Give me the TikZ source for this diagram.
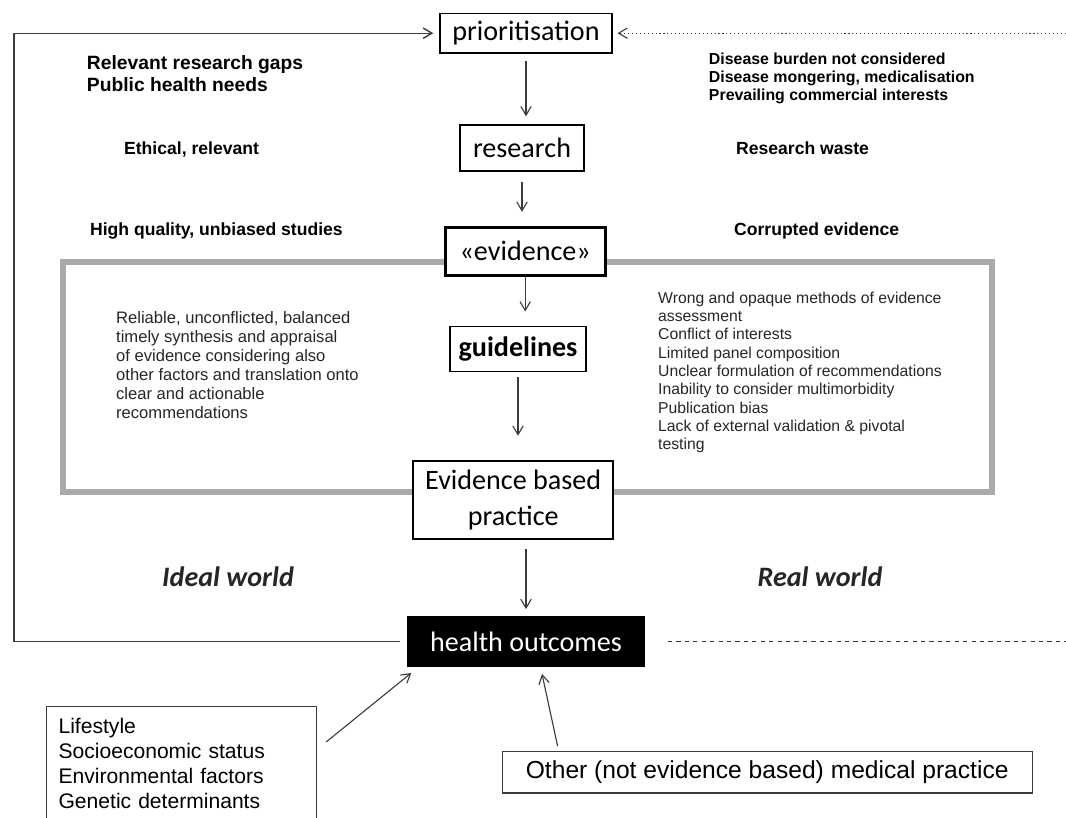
\documentclass[tikz,border=0pt]{standalone}
\usepackage{fontspec}
\setmainfont{Carlito}
\newfontfamily\arialfont{Liberation Sans}
\definecolor{framegray}{RGB}{170, 170, 170}
\definecolor{linegray}{RGB}{60, 60, 60}
\usetikzlibrary{arrows.meta, positioning, calc}
\tikzset{
  stagebox/.style={draw=black, line width=1pt, fill=white, inner sep=0pt, font=\fontsize{20}{24}\selectfont},
  sidelabel/.style={anchor=west, align=left, font=\arialfont\bfseries\fontsize{12.5}{15}\selectfont},
  graylist/.style={anchor=west, align=left, text=black!85},
  worldlabel/.style={font=\bfseries\itshape\fontsize{20}{24}\selectfont, text=black!85},
  flowarrow/.style={-{Straight Barb[length=2.2mm, width=2.6mm]}, linegray, line width=0.8pt}
}

\begin{document}
\begin{tikzpicture}
  \useasboundingbox (0,0) rectangle (26.65,-20.425);

  % Guideline frame
  \draw[framegray, line width=4.5pt] (1.58,-6.55) rectangle (24.8,-12.3);

  % Stages
  \node[stagebox, minimum width=4.3cm, minimum height=0.98cm] (prio) at (13.15,-0.83) {prioritisation};
  \node[stagebox, minimum width=3.1cm, minimum height=1.15cm] (research) at (13.05,-3.7) {research};
  \node[stagebox, line width=2pt, minimum width=4.0cm, minimum height=1.2cm] (evid) at (13.13,-6.28) {«evidence»};
  \node[stagebox, font=\bfseries\fontsize{20}{24}\selectfont, minimum width=3.4cm, minimum height=1.13cm] (guide) at (12.95,-8.72) {guidelines};
  \node[stagebox, line width=1.8pt, align=center, minimum width=5.0cm, minimum height=1.95cm, font=\fontsize{20}{25.5}\selectfont] (ebp) at (12.83,-12.5) {Evidence based\\practice};
  \node[stagebox, fill=black, text=white, minimum width=5.9cm, minimum height=1.23cm] (health) at (13.15,-16.04) {health outcomes};

  \draw[flowarrow, shorten <=0.18cm, shorten >=0.2cm] (prio.south) -- (prio.south |- research.north);
  \draw[flowarrow, shorten <=0.25cm, shorten >=0.35cm] (research.south) -- (research.south |- evid.north);
  \draw[flowarrow, shorten >=0.35cm] (evid.south) -- (evid.south |- guide.north);
  \draw[flowarrow, shorten <=0.12cm, shorten >=0.6cm] (guide.south) -- (guide.south |- ebp.north);
  \draw[flowarrow, shorten <=0.22cm, shorten >=0.18cm] (ebp.south -| health.north) -- (health.north);

  % Feedback loop and outside links
  \coordinate (loopcorner) at (0.35,-0.78);
  \coordinate (dotend) at (26.65,-0.8);
  \coordinate (dashend) at (26.65,-16.1);
  \draw[flowarrow, line width=1pt, shorten <=0.18cm, shorten >=0.15cm] (health.west) -- (health.west -| loopcorner) -- (loopcorner |- prio.west) -- (prio.west);
  \draw[flowarrow, dotted, shorten >=0.12cm] (prio.east -| dotend) -- (prio.east);
  \draw[linegray, dashed, line width=0.6pt, shorten <=0.58cm] (health.east) -- (health.east -| dashend);

  % Ideal side
  \node[sidelabel, font=\arialfont\bfseries\fontsize{13.7}{15.6}\selectfont] (gaps) at (2.05,-1.83) {Relevant research gaps\\Public health needs};
  \node[sidelabel] (ethical) at (2.98,-3.73) {Ethical, relevant};
  \node[sidelabel] (quality) at (2.13,-5.78) {High quality, unbiased studies};
  \node[graylist, font=\arialfont\fontsize{11.8}{13.6}\selectfont] (reliable) at (2.78,-9.13) {Reliable, unconflicted, balanced\\timely synthesis and appraisal\\of evidence considering also\\other factors and translation onto\\clear and actionable\\recommendations};
  \node[worldlabel] (ideal) at (5.7,-14.43) {Ideal world};

  % Real side
  \node[sidelabel, font=\arialfont\bfseries\fontsize{11.3}{13.1}\selectfont] (burden) at (17.6,-1.96) {Disease burden not considered\\Disease mongering, medicalisation\\Prevailing commercial interests};
  \node[sidelabel] (waste) at (18.28,-3.7) {Research waste};
  \node[sidelabel] (corrupt) at (18.23,-5.78) {Corrupted evidence};
  \node[graylist, font=\arialfont\fontsize{11.2}{13}\selectfont] (wrong) at (16.33,-9.31) {Wrong and opaque methods of evidence\\assessment\\Conflict of interests\\Limited panel composition\\Unclear formulation of recommendations\\Inability to consider multimorbidity\\Publication bias\\Lack of external validation \& pivotal\\testing};
  \node[worldlabel] (real) at (20.5,-14.43) {Real world};

  % Other determinants
  \node[draw=linegray, line width=0.8pt, anchor=north west, align=left, text width=6.15cm, inner xsep=0.3cm, inner ysep=0.3cm, font=\arialfont\fontsize{15}{17.7}\selectfont] (life) at (1.15,-17.65) {Lifestyle\\Socioeconomic status\\Environmental factors\\Genetic determinants};
  \node[draw=linegray, line width=0.8pt, minimum width=13.25cm, minimum height=1.03cm, inner sep=0pt, font=\arialfont\fontsize{17.5}{21}\selectfont] (other) at (19.18,-19.31) {Other (not evidence based) medical practice};

  \draw[flowarrow] ([shift={(0.225,-0.9)}]life.north east) -- ([shift={(0.1,-0.15)}]health.south west);
  \draw[flowarrow] ([shift={(1.4,0.125)}]other.north west) -- ([shift={(0.4,-0.175)}]health.south);
\end{tikzpicture}
\end{document}
